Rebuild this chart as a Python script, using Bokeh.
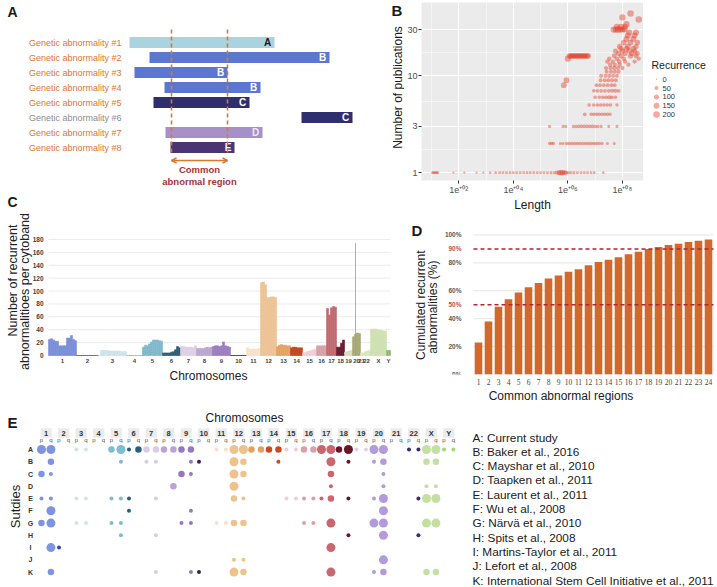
import math
from bokeh.plotting import figure
from bokeh.layouts import column, row
from bokeh.models import Range1d, Arrow, OpenHead, FixedTicker, CustomJSTickFormatter
from bokeh.core.properties import value
from bokeh.embed import file_html
from bokeh.resources import INLINE

FONT = "Liberation Sans"

# ------------------------------------------------------------------ data
# Panel A (schematic, positions in Mb)
a_labels = ["Genetic abnormality #1", "Genetic abnormality #2", "Genetic abnormality #3",
            "Genetic abnormality #4", "Genetic abnormality #5", "Genetic abnormality #6",
            "Genetic abnormality #7", "Genetic abnormality #8"]
a_start = [10, 20, 12.5, 27.5, 22, 96, 28, 30.5]
a_end = [82.5, 110, 59, 75.5, 70, 121.5, 76.5, 62.5]
a_study = ["A", "B", "B", "B", "C", "C", "D", "E"]
a_common = [31, 59]

# Panel B (log10 length, number of publications, recurrence)
b_len_exp = [
    1.03, 1.07, 1.11, 1.15, 1.19, 1.23, 1.80, 2.20, 2.65, 2.90, 3.15,
    3.35, 3.50, 3.62, 3.75, 3.88, 4.00, 4.12, 4.25, 4.38, 4.50, 4.62, 4.75, 4.88, 5.00, 5.12, 5.25, 5.38, 5.50,
    5.60, 5.68, 5.74, 5.80, 5.86, 5.92, 6.00, 6.10, 6.22, 6.35, 6.48, 6.60, 6.72, 6.85, 6.97, 7.30,
    5.33, 5.40, 5.47, 5.72, 5.82, 5.95, 6.05, 6.15, 6.25, 6.35, 6.45, 6.55, 6.65, 6.75, 6.85, 6.95, 7.05, 7.15, 7.25, 7.45, 7.70,
    5.33, 5.82, 5.92, 6.20, 6.30, 6.40, 6.50, 6.60, 6.70, 6.80, 6.90, 7.00, 7.10, 7.22, 7.50, 7.80,
    6.62, 6.85, 6.95, 7.05, 7.15, 7.25, 7.35, 7.45, 7.55,
    6.78, 6.95, 7.08, 7.20, 7.32, 7.44, 7.56, 7.80,
    7.00, 7.15, 7.28, 7.40, 7.52, 7.62, 7.75,
    6.95, 7.08, 7.22, 7.36, 7.50, 7.62, 7.74, 7.86,
    5.85, 7.05, 7.18, 7.32, 7.46, 7.60, 7.72,
    5.95, 7.20, 7.35, 7.48, 7.62, 7.76,
    7.22, 7.38, 7.52, 7.66, 7.80,
    7.42, 7.58, 7.72, 7.86,
    7.40, 7.56, 7.70, 7.84, 8.00,
    7.55, 7.72, 7.90, 8.22,
    7.45, 7.65, 7.88, 8.10, 8.45,
    6.00, 7.52, 7.80, 8.05, 8.60,
    6.05, 6.10, 6.15, 6.20, 6.25, 6.30, 6.35, 6.40, 6.45, 6.50, 6.55, 6.60, 6.65, 6.70, 6.75, 7.70, 7.95, 8.30, 8.50,
    7.85, 8.10, 8.35, 8.55,
    7.75, 8.00, 8.25, 8.45,
    7.95, 8.15, 8.40,
    7.90, 8.20, 8.50,
    8.05, 8.30, 8.55,
    8.15, 8.40,
    8.20, 8.45,
    8.25, 8.50,
    7.68, 7.76, 7.84, 7.92, 8.00, 8.08,
    7.80, 7.95, 8.10,
    8.15, 8.60, 8.00, 8.30,
]
b_pubs = (
    [1] * 45 + [2] * 21 + [3] * 16 + [4] * 9 + [5] * 8 + [6] * 7 + [7] * 8 + [8] * 7 + [9] * 6
    + [10] * 5 + [11] * 4 + [12] * 5 + [13] * 4 + [14] * 5 + [15] * 5 + [16] * 19 + [17] * 4
    + [18] * 4 + [19] * 3 + [20] * 3 + [22] * 3 + [24] * 2 + [26] * 2 + [28] * 2 + [30] * 6
    + [32] * 3 + [34, 38, 40, 44]
)
b_recur = [
    10, 10, 10, 10, 10, 10, 5, 5, 5, 5, 10,
    15, 15, 15, 15, 15, 15, 15, 15, 15, 15, 15, 15, 15, 15, 15, 15, 20, 20,
    60, 90, 120, 110, 90, 60, 30, 20, 20, 15, 15, 15, 15, 15, 15, 10,
    25, 25, 25, 20, 20, 30, 30, 30, 30, 30, 30, 30, 30, 30, 30, 30, 30, 25, 25, 20, 20,
    25, 20, 20, 30, 30, 35, 35, 35, 35, 35, 35, 30, 30, 30, 20, 20,
    40, 35, 35, 35, 35, 35, 35, 35, 30,
    35, 35, 35, 35, 35, 35, 35, 25,
    35, 35, 40, 40, 60, 40, 35,
    35, 40, 40, 40, 40, 45, 60, 40,
    150, 40, 40, 40, 45, 45, 40,
    150, 45, 45, 50, 55, 50,
    50, 50, 60, 50, 50,
    55, 55, 60, 55,
    60, 60, 70, 60, 55,
    70, 65, 70, 60,
    70, 70, 75, 70, 60,
    180, 80, 80, 70, 60,
    120, 130, 130, 130, 130, 130, 130, 130, 130, 130, 130, 130, 130, 130, 120, 90, 100, 110, 90,
    100, 110, 110, 90,
    110, 120, 120, 100,
    120, 130, 120,
    130, 140, 120,
    140, 150, 130,
    150, 150,
    160, 160,
    170, 160,
    180, 180, 190, 180, 170, 170,
    180, 190, 180,
    190, 200, 190, 200,
]
b_xticks = [1e2, 1e4, 1e6, 1e8]
b_xtick_labels = ["1e\u207a\u2070\u00b2", "1e\u207a\u2070\u2074", "1e\u207a\u2070\u2076", "1e\u207a\u2070\u2078"]
b_yticks = [1, 3, 10, 30]
b_legend_values = [0, 50, 100, 150, 200]

# Panel C (recurrent abnormalities per cytoband)
c_chroms = ["1", "2", "3", "4", "5", "6", "7", "8", "9", "10", "11", "12", "13", "14", "15",
            "16", "17", "18", "19", "20", "21", "22", "X", "Y"]
c_values = [
    [25, 26, 24, 22, 22, 15, 15, 15, 15, 27, 27, 31, 25, 23],
    [0] * 11,
    [0, 8, 8, 8, 8, 7, 7, 7, 7, 7, 7, 6, 6, 6],
    [0] * 8,
    [13, 16, 15, 18, 21, 24, 24, 24, 23, 22],
    [4, 4, 4, 4, 5, 6, 9, 14, 12],
    [14, 14, 13, 13, 13, 13, 12, 15],
    [11, 11, 11, 11, 12, 13, 12, 13],
    [14, 15, 15, 14, 15, 21, 15, 14, 13],
    [0] * 8,
    [12, 10, 10, 10, 10, 10, 11],
    [113, 114, 110, 90, 90, 91, 91, 90],
    [14, 16, 17, 16, 16, 15, 15],
    [12, 13, 13, 12, 12, 12],
    [4, 5, 6, 7, 8, 9, 10],
    [15, 15, 15, 15, 15],
    [73, 63, 74, 76, 75],
    [13, 13, 19, 24],
    [5, 6, 7, 8],
    [29, 33, 35, 34],
    [4],
    [4, 6, 7, 8],
    [41, 41, 41, 40, 39, 39, 38, 38],
    [8, 8],
]
c_colors = ["#7b8ed8", "#3b55c8", "#cde3ec", "#9fb3d6", "#7fb8cc", "#2e5c74", "#dcd0e6", "#b9a6d2",
            "#9c7cbf", "#3c1f5c", "#f6e3c6", "#ecc394", "#e3a263", "#c4451c", "#efd0d5", "#d8a0a4",
            "#c06a70", "#6d1a2b", "#dadbc0", "#a9a877", "#dfe5cc", "#d5e6c0", "#cfe1b0", "#8fb86e"]
c_peak_chrom = "20"
c_peak_band = 1
c_peak_value = 174
c_yticks = [0, 20, 40, 60, 80, 100, 120, 140, 160, 180]

# Panel D (cumulated recurrent abnormalities, %)
d_regions = list(range(1, 25))
d_cum = [23, 38, 48.5, 54, 58.7, 62.5, 65.5, 68.8, 71, 73.7, 75.5, 78.3,
         80.6, 82.3, 84.1, 86.2, 87.9, 90, 91.4, 92.8, 93.7, 94.9, 95.8, 96.7]
d_thresholds = [50, 90]
d_yticks = [0, 20, 40, 60, 80, 100]

# Panel E (abnormalities per study and chromosome arm; size class 1-3)
e_studies = ["A", "B", "C", "D", "E", "F", "G", "H", "I", "J", "K"]
e_calls = [
    "1p3 1q3 3p1 3q1 5p2 5q3 6p1 6q2 7p2 7q2 8p2 8q2 9p2 9q2 11p1 11q1 12p3 12q3 13p2 13q2 14p2 14q2 "
    "15p1 15q1 16p2 16q2 17p3 17q3 18p2 18q3 19p1 19q1 20p3 20q3 22p1 22q1 Xp3 Xq3 Yp1 Yq1",
    "1q2 5q1 7p1 7q1 9q1 10p1 12p3 12q2 14q1 17q3 18q1 20p1 20q2 Xp2 Xq2",
    "1p2 1q1 9p2 9q1 12p3 12q2 17q2 20q1",
    "8q2 12p3 17q1 20q1 Xp1 Xq1",
    "1p1 1q1 3p1 3q1 5p1 5q1 6p1 7q1 12p2 12q1 15p1 15q1 16p1 16q1 17p1 17q2 18q1 20p1 20q3 22q1 Xp3 Xq3",
    "1q3 6p1 9q1 20q3",
    "1p2 1q3 3p1 3q1 5p1 5q1 9p1 9q1 11p1 11q1 12p2 12q2 16p1 16q1 17q3 20p3 20q3 Xp3 Xq3",
    "5q1 7q1 18q1 20q3 22q1",
    "1q3 2p1 17q3",
    "12p1 12q1 20q3",
    "1q2 7q1 9q1 10p1 12p3 12q2 17q3 20p1 20q2 Xp2 Xq2",
]
e_colors = ["#7e94df", "#2f48c6", "#cce6ef", "#9fb8d8", "#7dbcd2", "#2b5f79", "#d9cce8", "#b9a2d6",
            "#9877c1", "#3c1c5b", "#f7e2c4", "#eec28d", "#e6a25c", "#d2461c", "#f0ced3", "#d9a1a7",
            "#c9666f", "#6c1527", "#dbd2ee", "#b29bda", "#999999", "#3c2a74", "#c4e0a0", "#a5d67a"]
e_refs = ["A: Current study", "B: Baker et al., 2016", "C: Mayshar et al., 2010",
          "D: Taapken et al., 2011", "E: Laurent et al., 2011", "F: Wu et al., 2008",
          "G: N\u00e4rv\u00e4 et al., 2010", "H: Spits et al., 2008", "I: Martins-Taylor et al., 2011",
          "J: Lefort et al., 2008", "K: International Stem Cell Initiative et al., 2011"]


# ------------------------------------------------------------------ helpers
def mk(width, height, **kw):
    p = figure(width=width, height=height, toolbar_location=None, output_backend="svg",
               title=None, **kw)
    p.outline_line_color = None
    p.border_fill_color = "white"
    p.background_fill_color = "white"
    return p


def bare(width, height, xr, yr):
    p = mk(width, height, x_range=Range1d(*xr), y_range=Range1d(*yr),
           x_axis_location=None, y_axis_location=None,
           min_border_left=0, min_border_right=0, min_border_top=0, min_border_bottom=0)
    p.grid.grid_line_color = None
    return p


def txt(p, x, y, t, size, color="#1a1a1a", bold=False, align="center", base="middle", angle=0.0):
    p.text(x=x, y=y, text=t, text_font=value(FONT), text_font_size=size,
           text_font_style="bold" if bold else "normal", text_color=color,
           text_align=align, text_baseline=base, angle=angle)


ORANGE = "#dd7630"
LEFT_W = 404     # page x where the right-hand column starts
A_H = 210        # page y where panel C's canvas starts

# ------------------------------------------------------------------ panel A  (page 0..404 x 0..210)
ax = lambda px: 10 + (px - 129) / 2.0      # page x -> Mb
ay = lambda py: 1 + (py - 42) / 15.0       # page y -> row
pA = bare(LEFT_W, A_H, (ax(0), ax(LEFT_W)), (ay(A_H), ay(0)))
a_rows = list(range(1, 9))
a_fill = {"A": "#a8d3df", "B": "#5b77d1", "C": "#2f2e6e", "D": "#a690c7", "E": "#4b3472"}
a_txtc = {"A": "#1a1a1a", "B": "white", "C": "white", "D": "#f0eaf6", "E": "white"}
pA.hbar(y=a_rows, left=a_start, right=a_end, height=0.73,
        fill_color=[a_fill[s] for s in a_study], line_color=None)
txt(pA, [e - 1.6 for e in a_end], a_rows, a_study, "10px",
    color=[a_txtc[s] for s in a_study], bold=True, align="right")
lab_col = [ORANGE if (s < a_common[1] and e > a_common[0]) else "#8c8c8c"
           for s, e in zip(a_start, a_end)]
txt(pA, [ax(121)] * 8, a_rows, a_labels, "9px", color=lab_col, align="right")
pA.segment(x0=a_common, x1=a_common, y0=[ay(29)] * 2, y1=[ay(152)] * 2,
           line_color=ORANGE, line_dash="4 3", line_width=1.6)
pA.add_layout(Arrow(start=OpenHead(size=5, line_color=ORANGE, line_width=1.5),
                    end=OpenHead(size=5, line_color=ORANGE, line_width=1.5),
                    x_start=a_common[0], x_end=a_common[1], y_start=ay(160), y_end=ay(160),
                    line_color=ORANGE, line_width=1.5))
mid = (a_common[0] + a_common[1]) / 2
txt(pA, [mid, mid], [ay(169), ay(181)], ["Common", "abnormal region"], "9.5px",
    color="#a8323a", bold=True)
txt(pA, [ax(7)], [ay(3)], ["A"], "14px", bold=True, align="left", base="top")
# texts of the neighbouring panels that fall in this canvas
txt(pA, [ax(391)], [ay(1)], ["B"], "15px", bold=True, align="left", base="top")
txt(pA, [ax(397.5)], [ay(87)], ["Number of publications"], "12px", angle=math.pi / 2)
txt(pA, [ax(7)], [ay(201.5)], ["C"], "14px", bold=True, align="left", base="middle")

# ------------------------------------------------------------------ panel B  (page 404..643 x 0..214)
b_len = [10 ** v for v in b_len_exp]


def bsize(r):
    return 1.5 + 5.0 * math.sqrt(r / 200)


B_TOP, B_BOT = 2, 31
pB = mk(643 - LEFT_W, 214, x_axis_type="log", y_axis_type="log",
        x_range=Range1d(10 ** (2 - (456.7 - 419) / 27.5), 10 ** (2 + (643 - 456.7) / 27.5)),
        y_range=Range1d(10 ** (-(183 - 175) / 98.5), 10 ** ((175 - 2) / 98.5)),
        min_border_left=419 - LEFT_W, min_border_right=0, min_border_top=B_TOP,
        min_border_bottom=B_BOT)
pB.background_fill_color = "#ebebeb"
pB.scatter(x=b_len, y=b_pubs, size=[bsize(r) for r in b_recur], fill_color="#e2412b",
           fill_alpha=0.45, line_color=None)
xt = FixedTicker(ticks=b_xticks, minor_ticks=[1e1, 1e3, 1e5, 1e7])
yt = FixedTicker(ticks=b_yticks, minor_ticks=[math.sqrt(3), math.sqrt(30), math.sqrt(300)])
pB.xaxis.ticker = xt
pB.yaxis.ticker = yt
pB.xgrid.ticker = xt
pB.ygrid.ticker = yt
pB.xaxis.formatter = CustomJSTickFormatter(args=dict(bt=b_xticks, bl=b_xtick_labels), code="""
for (let i = 0; i < bt.length; i++) {
  if (Math.abs(Math.log10(bt[i]) - Math.log10(tick)) < 0.01) return bl[i];
}
return '';""")
pB.yaxis.formatter = CustomJSTickFormatter(code="return String(Math.round(tick));")
for g in (pB.xgrid, pB.ygrid):
    g.grid_line_color = "white"
    g.grid_line_width = 1.1
    g.minor_grid_line_color = "white"
    g.minor_grid_line_width = 0.5
for a in (pB.xaxis, pB.yaxis):
    a.axis_line_color = None
    a.major_tick_line_color = "#333333"
    a.major_tick_out = 3
    a.major_tick_in = 0
    a.minor_tick_line_color = None
    a.minor_tick_out = 0
    a.minor_tick_in = 0
    a.major_label_text_font = FONT
    a.major_label_text_font_size = "9px"
    a.major_label_text_color = "#4d4d4d"
    a.major_label_standoff = 1
pB.xaxis.axis_label = "Length"
pB.xaxis.axis_label_text_font = FONT
pB.xaxis.axis_label_text_font_size = "12px"
pB.xaxis.axis_label_text_font_style = "normal"
pB.xaxis.axis_label_text_color = "#1a1a1a"
pB.xaxis.axis_label_standoff = 0

pBL = mk(717 - 643, 214, x_range=Range1d(643, 717), y_range=Range1d(183, 2),
         x_axis_location=None, y_axis_location=None, min_border_left=0, min_border_right=0,
         min_border_top=B_TOP, min_border_bottom=B_BOT)
pBL.grid.grid_line_color = None
leg_y = [80, 89, 98, 107, 116]
pBL.scatter(x=[656] * 5, y=leg_y, size=[bsize(v) for v in b_legend_values],
            fill_color="#e2412b", fill_alpha=0.45, line_color=None)
txt(pBL, [662] * 5, leg_y, [str(v) for v in b_legend_values], "7.5px", color="#333333",
    align="left")
txt(pBL, [651], [66], ["Recurrence"], "10.5px", align="left")

# ------------------------------------------------------------------ panel C  (page 0..404 x 210..405)
C_PX = 2.0                   # page px per cytoband unit
C_PY = (355 - 239) / 180.0   # page px per abnormality
cx = lambda px: (px - 48) / C_PX
cy = lambda py: (355 - py) / C_PY
pC = bare(LEFT_W, 405 - A_H, (cx(0), cx(LEFT_W)), (cy(405), cy(A_H)))
c_x, c_top, c_col, c_centers = [], [], [], []
off = 0
offsets = {}
for name, vals, col in zip(c_chroms, c_values, c_colors):
    offsets[name] = off
    for k, v in enumerate(vals):
        c_x.append(off + k + 0.5)
        c_top.append(v)
        c_col.append(col)
    c_centers.append(off + len(vals) / 2)
    off += len(vals)
pC.segment(x0=[0] * len(c_yticks), x1=[off] * len(c_yticks), y0=c_yticks, y1=c_yticks,
           line_color="#ebebeb", line_width=1)
pC.vbar(x=c_x, top=c_top, width=1.0, fill_color=c_col, line_color=c_col, line_width=0.6)
pC.vbar(x=[offsets[c_peak_chrom] + c_peak_band + 0.5], top=[c_peak_value], width=0.45,
        fill_color="#a3a36a", fill_alpha=0.9, line_color=None)
txt(pC, [cx(43)] * len(c_yticks), c_yticks, [str(v) for v in c_yticks], "6.5px",
    color="#404040", bold=True, align="right")
txt(pC, c_centers, [cy(360.5)] * len(c_centers), c_chroms, "6px", color="#404040", bold=True)
txt(pC, [cx(208)], [cy(375)], ["Chromosomes"], "12px", color="#222222")
txt(pC, [cx(12.5)], [cy(280)], ["Number of recurrent"], "12.5px", color="#222222",
    angle=math.pi / 2)
txt(pC, [cx(24.5)], [cy(291)], ["abnormalitioes per cytoband"], "12.5px", color="#222222",
    angle=math.pi / 2)

# ------------------------------------------------------------------ panel D  (page 404..717 x 214..405)
D_PX = 10.0                  # page px per region
D_PY = (378 - 235) / 100.0   # page px per percent
dxp = lambda px: 1 + (px - 478) / D_PX
dyp = lambda py: (378 - py) / D_PY
pD = mk(717 - LEFT_W, 405 - 214, x_range=Range1d(dxp(LEFT_W), dxp(717)),
        y_range=Range1d(0, dyp(214)), y_axis_location=None,
        min_border_left=0, min_border_right=0, min_border_top=0, min_border_bottom=27)
pD.grid.grid_line_color = None
pD.segment(x0=[0.5] * len(d_yticks), x1=[24.5] * len(d_yticks), y0=d_yticks, y1=d_yticks,
           line_color="#e4e4e4", line_width=1)
pD.vbar(x=d_regions, top=d_cum, width=0.76, fill_color="#d2682a", line_color=None)
pD.segment(x0=[0.5] * 2, x1=[24.5] * 2, y0=d_thresholds, y1=d_thresholds,
           line_color="#b3262e", line_dash="4 3", line_width=1.4)
txt(pD, [dxp(461)] * len(d_yticks), d_yticks, [f"{v}%" for v in d_yticks], "6.5px",
    color="#595959", bold=True, align="right")
txt(pD, [dxp(461)] * 2, d_thresholds, [f"{v}%" for v in d_thresholds], "6.5px",
    color="#c0504d", bold=True, align="right")
txt(pD, [dxp(411)], [dyp(222)], ["D"], "15px", bold=True, align="left", base="top")
txt(pD, [dxp(420)], [dyp(307)], ["Cumulated recurrent"], "12px", color="#222222",
    angle=math.pi / 2)
txt(pD, [dxp(432)], [dyp(309)], ["abnormalities (%)"], "12px", color="#222222",
    angle=math.pi / 2)
pD.xaxis.ticker = FixedTicker(ticks=d_regions)
pD.xaxis.axis_line_color = None
pD.xaxis.major_tick_line_color = None
pD.xaxis.minor_tick_line_color = None
pD.xaxis.major_tick_out = 0
pD.xaxis.major_tick_in = 0
pD.xaxis.minor_tick_out = 0
pD.xaxis.minor_tick_in = 0
pD.xaxis.major_label_text_font = "Liberation Serif"
pD.xaxis.major_label_text_font_size = "7.5px"
pD.xaxis.major_label_text_color = "#444444"
pD.xaxis.major_label_standoff = 4
pD.xaxis.axis_label = "Common abnormal regions"
pD.xaxis.axis_label_text_font = FONT
pD.xaxis.axis_label_text_font_size = "12px"
pD.xaxis.axis_label_text_font_style = "normal"
pD.xaxis.axis_label_text_color = "#222222"
pD.xaxis.axis_label_standoff = 1

# ------------------------------------------------------------------ panel E  (page 0..717 x 405..587)
E_X0, E_DX = 45.7, 17.5      # page x of chromosome 1, px per chromosome
E_Y0, E_DY = 449.0, 12.26    # page y of study A, px per study
ex = lambda px: (px - E_X0) / E_DX
ey = lambda py: (py - E_Y0) / E_DY
pE = bare(717, 587 - 405, (ex(0), ex(717)), (ey(587), ey(405)))
ARM = {"p": -0.27, "q": 0.27}
SIZE = {1: 4, 2: 6.5, 3: 9}
dx, dy, ds, dc = [], [], [], []
for j, calls in enumerate(e_calls):
    for c in calls.split():
        chrom, arm, cls = c[:-2], c[-2], int(c[-1])
        i = c_chroms.index(chrom)
        dx.append(i + ARM[arm])
        dy.append(j)
        ds.append(SIZE[cls])
        dc.append(e_colors[i])
pE.scatter(x=dx, y=dy, size=ds, fill_color=dc, line_color=None)
idx = list(range(len(c_chroms)))
pE.rect(x=idx, y=[ey(432.5)] * len(idx), width=0.64, height=0.78, fill_color="#ebebeb",
        line_color=None)
txt(pE, idx, [ey(432.5)] * len(idx), c_chroms, "7.5px", color="#333333", bold=True)
txt(pE, [i + ARM[a] for i in idx for a in "pq"], [ey(439.5)] * (2 * len(idx)),
    [a for _ in idx for a in "pq"], "6px", color="#555555")
txt(pE, [ex(30)] * len(e_studies), list(range(len(e_studies))), e_studies, "7px",
    color="#333333", bold=True)
txt(pE, [ex(244)], [ey(417)], ["Chromosomes"], "12px")
txt(pE, [ex(15)], [ey(506)], ["Sutdies"], "13px", angle=math.pi / 2)
txt(pE, [ex(472)] * len(e_refs), [ey(437 + 14.3 * k) for k in range(len(e_refs))], e_refs,
    "11.8px", align="left")
txt(pE, [ex(7)], [ey(413)], ["E"], "15px", bold=True, align="left", base="top")

# ------------------------------------------------------------------ layout
page = column(row(column(row(pA), row(pC)), column(row(pB, pBL), pD)), pE)
open("out.html", "w").write(file_html(page, INLINE))
